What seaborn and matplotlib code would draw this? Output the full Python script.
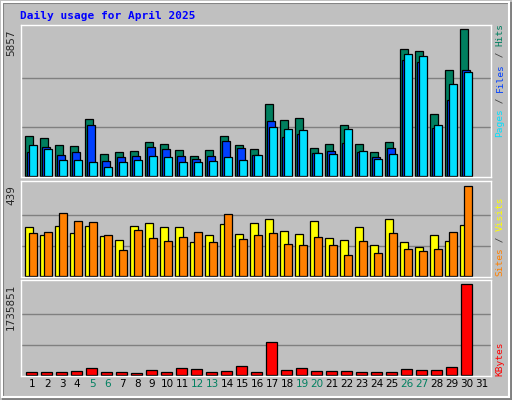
import numpy as np
import matplotlib
matplotlib.use("Agg")
import matplotlib.pyplot as plt
import seaborn as sns

days = list(range(1, 32))
hits = [1620, 1540, 1265, 1225, 2290, 905, 985, 1025, 1385, 1305, 1065, 825, 1065, 1620, 1265, 1105, 2875, 2235, 2315, 1145, 1305, 2035, 1305, 985, 1385, 5060, 4980, 2495, 4220, 5857, np.nan]
files = [985, 1185, 865, 985, 2050, 625, 785, 825, 1185, 1105, 825, 705, 825, 1425, 1145, 865, 2185, 1585, 1705, 945, 1025, 1345, 985, 785, 1145, 4620, 4540, 1945, 3060, 4220, np.nan]
pages = [1265, 1105, 665, 665, 585, 385, 585, 665, 825, 785, 585, 585, 625, 785, 665, 865, 1985, 1905, 1865, 945, 905, 1905, 1025, 705, 905, 4860, 4780, 2065, 3660, 4140, np.nan]
visits = [237, 199, 242, 209, 242, 194, 175, 242, 256, 237, 237, 166, 199, 251, 204, 256, 275, 218, 204, 266, 185, 175, 237, 151, 275, 166, 142, 199, 170, 247, np.nan]
sites = [209, 213, 303, 266, 261, 199, 128, 223, 185, 170, 189, 213, 166, 299, 180, 199, 209, 156, 151, 189, 151, 103, 170, 112, 209, 132, 122, 132, 213, 432, np.nan]
kbytes = [57000, 57000, 57000, 76000, 134000, 57000, 57000, 38000, 96000, 57000, 134000, 115000, 57000, 76000, 172000, 57000, 632000, 96000, 134000, 76000, 76000, 76000, 57000, 57000, 57000, 115000, 96000, 96000, 153000, 1735851, np.nan]
weekend = [5, 6, 12, 13, 19, 20, 26, 27]

sns.set_style("white")
plt.rcParams['font.family'] = ['DejaVu Sans Mono']

BG = '#c0c0c0'
fig = plt.figure(figsize=(5.12, 4.0), dpi=100, facecolor=BG)
fig.patches.append(plt.Rectangle((0.004, 0.008), 0.99, 0.988, transform=fig.transFigure,
                                 fill=False, edgecolor='white', lw=1.5))
fig.patches.append(plt.Rectangle((0.006, 0.003), 0.992, 0.99, transform=fig.transFigure,
                                 fill=False, edgecolor='#808080', lw=1.5, zorder=-1))
fig.text(20 / 512, 1 - 16 / 400, "Daily usage for April 2025", color='#0000ff',
         fontsize=8, fontweight='bold', va='center', ha='left')

d = np.array(days, dtype=float)
L, W = 20.7 / 512, 470 / 512
ax1 = fig.add_axes([L, 0.5575, W, 0.38])
ax2 = fig.add_axes([L, 0.3075, W, 0.24])
ax3 = fig.add_axes([L, 0.06, W, 0.24])

ek = dict(edgecolor='black', linewidth=0.9, align='edge')
ax1.bar(d, hits, width=0.5, color='#007f5f', **ek)
ax1.bar(d + 0.13, files, width=0.5, color='#0040ff', **ek)
ax1.bar(d + 0.27, pages, width=0.5, color='#00e0ff', **ek)
ax2.bar(d, visits, width=0.53, color='#ffff00', **ek)
ax2.bar(d + 0.27, sites, width=0.49, color='#ff8000', **ek)
ax3.bar(d + 0.07, kbytes, width=0.7, color='#ff0000', **ek)

for ax, mx, lo, hi in [(ax1, 5857, -27, 6030), (ax2, 439, -3, 457), (ax3, 1735851, -19000, 1812000)]:
    ax.set_facecolor(BG)
    ax.set_xlim(0.69, 32.02)
    ax.set_ylim(lo, hi)
    for g in (mx / 3, 2 * mx / 3):
        ax.axhline(g, color='#808080', lw=1, zorder=0)
    ax.set_yticks([])
    ax.set_xticks([])
    for s in ax.spines.values():
        s.set_color('white')
        s.set_linewidth(1)
    ax.text(-0.01, mx, str(mx), transform=ax.get_yaxis_transform(), rotation=90,
            ha='right', va='top', fontsize=7.5, family='DejaVu Sans')

for dd in days:
    ax3.text(dd + 0.45, -0.03, str(dd), transform=ax3.get_xaxis_transform(), ha='center',
             va='top', fontsize=7.5, family='DejaVu Sans',
             color='#008060' if dd in weekend else 'black')

cw = 0.602 * 6.8 * 100 / 72
def side(ybottom, segs):
    y = ybottom
    for txt, col in segs:
        fig.text(500 / 512, y / 400, txt, rotation=90, color=col, fontsize=6.8,
                 ha='center', va='bottom')
        y += len(txt) * cw

side(263, [("Pages", '#00e0ff'), (" / ", '#404040'), ("Files", '#0040ff'), (" / ", '#404040'), ("Hits", '#007f5f')])
side(124, [("Sites", '#ff8000'), (" / ", '#404040'), ("Visits", '#ffff00')])
side(24, [("KBytes", '#ff0000')])

fig.savefig("out.png", dpi=100, facecolor=BG)
